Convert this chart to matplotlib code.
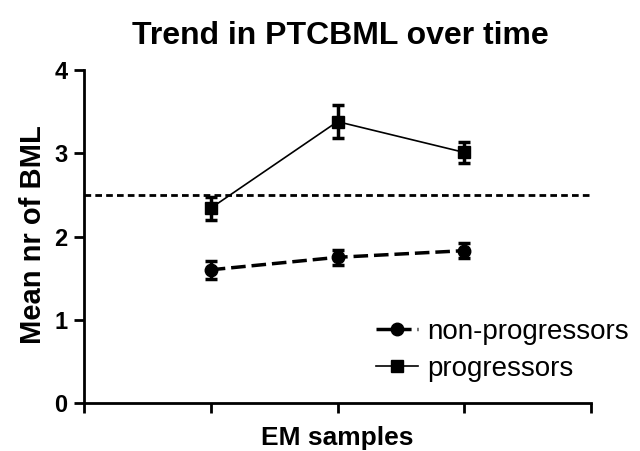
import matplotlib
matplotlib.use("Agg")
import matplotlib.pyplot as plt
from matplotlib.lines import Line2D

# Data
x_positions = [1, 2, 3]
prog_mean = [2.34, 3.38, 3.01]
prog_err = [0.14, 0.20, 0.13]
nonprog_mean = [1.60, 1.75, 1.83]
nonprog_err = [0.11, 0.09, 0.09]
threshold = 2.5
y_ticks = [0, 1, 2, 3, 4]
x_ticks = [0, 1, 2, 3, 4]
title = "Trend in PTCBML over time"
xlabel = "EM samples"
ylabel = "Mean nr of BML"
labels = ["non-progressors", "progressors"]

plt.rcParams['font.family'] = ['Liberation Sans', 'DejaVu Sans']

fig = plt.figure(figsize=(6.4, 4.51), dpi=100)
L, R, B, T = 84, 591, 403, 70
ax = fig.add_axes([L/640, 1-B/451, (R-L)/640, (B-T)/451])

ax.set_xlim(0, 4)
ax.set_ylim(0, 4)

ax.axhline(threshold, color='black', lw=2, linestyle=(0, (2.4, 1.5)), zorder=1)

ax.errorbar(x_positions, prog_mean, yerr=prog_err, color='black', lw=1.2,
            marker='s', markersize=9, capsize=4.6, capthick=2.5, elinewidth=2.5,
            clip_on=False, zorder=3)
ax.errorbar(x_positions, nonprog_mean, yerr=nonprog_err, color='black', lw=2.5,
            linestyle=(0, (4.2, 1.7)), marker='o', markersize=9, capsize=4.6,
            capthick=2.5, elinewidth=2.5, clip_on=False, zorder=3)

for s in ['top', 'right']:
    ax.spines[s].set_visible(False)
for s in ['left', 'bottom']:
    ax.spines[s].set_linewidth(2)

ax.set_yticks(y_ticks)
ax.set_yticklabels([str(v) for v in y_ticks], fontsize=17, fontweight='bold')
ax.set_xticks(x_ticks)
ax.set_xticklabels([])
ax.tick_params(direction='out', length=7, width=2, pad=5)

fig.text(340/640, 1-36/451, title, ha='center', va='center', fontsize=23, fontweight='bold')
fig.text(337/640, 1-438/451, xlabel, ha='center', va='center', fontsize=19, fontweight='bold')
fig.text(33/640, 1-235/451, ylabel, ha='center', va='center', fontsize=21, fontweight='bold', rotation=90)

handles = [
    Line2D([], [], color='black', lw=2.5, linestyle=(0, (4.2, 1.7)), marker='o', markersize=9),
    Line2D([], [], color='black', lw=1.2, marker='s', markersize=8),
]
leg = fig.legend(handles, labels, loc='upper left', bbox_to_anchor=(376/640, 1-319/451),
                 frameon=False, fontsize=20, handlelength=1.5, handletextpad=0.35,
                 labelspacing=0.38, borderaxespad=0, borderpad=0)

fig.savefig("out.png", dpi=100)
